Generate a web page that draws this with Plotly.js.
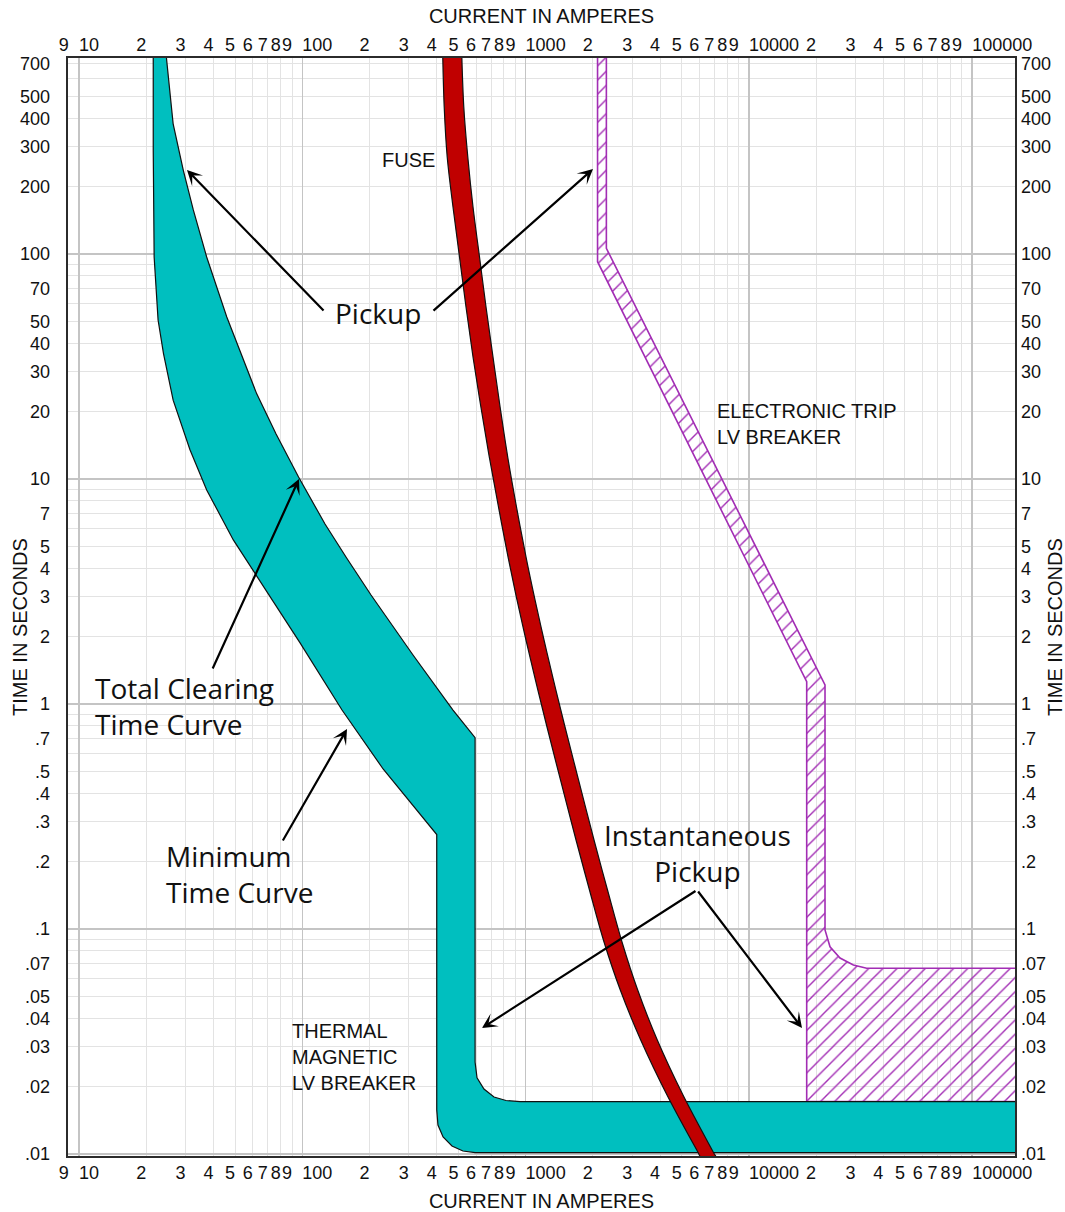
<!DOCTYPE html>
<html>
<head>
<meta charset="utf-8">
<script src="https://cdn.plot.ly/plotly-3.0.1.min.js"></script>
<style>
html,body{margin:0;padding:0;background:#ffffff;}
#chart{width:1065px;height:1212px;}
</style>
</head>
<body>
<div id="chart"></div>
<script>
// ---------------- DATA (amperes / seconds) ----------------
// Thermal magnetic LV breaker band
const tmMinCurrent = [21.5, 21.5, 21.7, 21.9, 22.6, 23.9, 26.4, 31.4, 37.3, 49.1, 60.3, 97.7, 150.6, 230.5, 400, 400, 405, 427, 468, 524, 594, 400000];
const tmMinTime    = [850, 290, 97, 79, 50.9, 36.1, 22.4, 13.5, 8.94, 5.36, 3.88, 1.87, 0.94, 0.513, 0.263, 0.0157, 0.01345, 0.0119, 0.01085, 0.01031, 0.01015, 0.01015];
const tmTotCurrent = [24.3, 26.4, 29.3, 32.5, 37.3, 45.9, 62.5, 76.2, 96.2, 126.4, 156.9, 203.1, 313.2, 473.0, 594, 594, 606, 651, 722, 817, 944, 400000];
const tmTotTime    = [850, 379, 236, 157, 97, 52.5, 23.9, 15.9, 10.2, 6.31, 4.50, 3.05, 1.651, 0.94, 0.708, 0.0256, 0.0218, 0.01945, 0.01792, 0.01729, 0.0171, 0.0171];

// Fuse band
const fuseTime      = [850, 450.2, 269.9, 161.8, 97.0, 58.13, 34.85, 20.89, 12.52, 7.508, 4.502, 2.899, 1.925, 1.278, 0.8233, 0.4596, 0.2486, 0.1491, 0.08758, 0.05357, 0.03211, 0.01829, 0.01021, 0.00849];
const fuseLoCurrent = [424.5, 432.0, 445.6, 473.0, 505.8, 540.9, 581.4, 630.7, 687.9, 756.2, 834.3, 915.1, 1004, 1107, 1234, 1433, 1682, 1932, 2245, 2655, 3277, 4298, 5905, 6552];
const fuseHiCurrent = [516.3, 528.7, 551.0, 581.4, 621.7, 664.9, 714.5, 768.8, 831.7, 910.4, 1004, 1102, 1209, 1333, 1486, 1726, 2025, 2327, 2702, 3177, 3888, 5068, 6921, 7663];

// Electronic trip LV breaker band (closed outline)
const etCurrent = [2100, 2100, 18150, 18150, 400000, 400000, 33690, 29360, 25590, 23080, 21920, 21920, 2300, 2300];
const etTime    = [850, 92.4, 1.256, 0.0171, 0.0171, 0.0669, 0.0669, 0.0692, 0.0743, 0.0834, 0.099, 1.215, 106, 850];

// Tick labels
const xDigitLabels  = ['2','3','4','5','6','7','8','9'];
const xDecadeVals   = [10, 100, 1000, 10000, 100000];
const xDecadeText   = ['10', '100', '1000', '10000', '100000'];
const yTickVals = [0.01,0.02,0.03,0.04,0.05,0.07,0.1,0.2,0.3,0.4,0.5,0.7,1,2,3,4,5,7,10,20,30,40,50,70,100,200,300,400,500,700];
const yTickText = ['.01','.02','.03','.04','.05','.07','.1','.2','.3','.4','.5','.7','1','2','3','4','5','7','10','20','30','40','50','70','100','200','300','400','500','700'];
const yDecadeVals = [0.01, 0.1, 1, 10, 100];

// ---------------- build helpers ----------------
const X_RANGE = [0.9507, 5.1917];
const Y_RANGE = [-2.0089, 2.8711];

const xDigitVals = [9], xDigitText = ['9'];
for (let k = 1; k <= 4; k++) {
  for (let n = 2; n <= 9; n++) { xDigitVals.push(n * Math.pow(10, k)); xDigitText.push(xDigitLabels[n - 2]); }
}
const yMinorVals = [];
for (let k = -2; k <= 2; k++) {
  for (let n = 2; n <= 9; n++) { const v = n * Math.pow(10, k); if (Math.log10(v) < Y_RANGE[1]) yMinorVals.push(v); }
}

const TEAL = '#00BFBF', RED = '#C00000', PURPLE = '#A22DB4';
const AXF = 'Liberation Sans, Arial, Helvetica, sans-serif';
const CALLF = 'Open Sans, Noto Sans, sans-serif';

// closed band polygons
const tmX = tmTotCurrent.concat(tmMinCurrent.slice().reverse());
const tmY = tmTotTime.concat(tmMinTime.slice().reverse());
const fuX = fuseLoCurrent.concat(fuseHiCurrent.slice().reverse());
const fuY = fuseTime.concat(fuseTime.slice().reverse());

const traces = [
  { x: etCurrent, y: etTime, type: 'scatter', mode: 'lines', fill: 'toself',
    fillcolor: 'rgba(0,0,0,0)',
    fillpattern: { shape: '/', fgcolor: PURPLE, bgcolor: 'rgba(0,0,0,0)', size: 10, solidity: 0.14, fillmode: 'replace' },
    line: { color: PURPLE, width: 1.6 }, hoverinfo: 'skip', showlegend: false },
  { x: tmX, y: tmY, type: 'scatter', mode: 'lines', fill: 'toself', fillcolor: TEAL,
    line: { color: '#111', width: 1.2 }, hoverinfo: 'skip', showlegend: false },
  { x: fuX, y: fuY, type: 'scatter', mode: 'lines', fill: 'toself', fillcolor: RED,
    line: { color: '#111', width: 1.2, shape: 'spline', smoothing: 1 }, hoverinfo: 'skip', showlegend: false }
];
// empty carrier traces so every overlaid tick-label axis is drawn
['x2','x3','x4','x5','x6'].forEach(ax => traces.push({ x: [null], y: [null], xaxis: ax, yaxis: 'y', type: 'scatter', mode: 'markers', hoverinfo: 'skip', showlegend: false }));
['y2','y3','y4'].forEach(ax => traces.push({ x: [null], y: [null], xaxis: 'x', yaxis: ax, type: 'scatter', mode: 'markers', hoverinfo: 'skip', showlegend: false }));

// plot-area pixel frame (for placing callouts)
const L = 68, R = 1015, T = 58, B = 1156;
const px = v => (v - L) / (R - L);
const py = v => (B - v) / (B - T);

function arrow(hx, hy, tx, ty) {
  return { xref: 'paper', yref: 'paper', x: px(hx), y: py(hy), ax: tx - hx, ay: ty - hy,
           text: '', showarrow: true, arrowhead: 3, arrowsize: 1.15, arrowwidth: 2.2,
           arrowcolor: '#000', standoff: 0, startstandoff: 0 };
}
function label(text, x, y, opts) {
  return Object.assign({ xref: 'paper', yref: 'paper', x: px(x), y: py(y), text: text, showarrow: false,
           xanchor: 'center', yanchor: 'middle', font: { family: AXF, size: 20, color: '#111' } }, opts || {});
}

const annotations = [
  label('FUSE', 408, 160),
  label('THERMAL<br>MAGNETIC<br>LV BREAKER', 290, 1057, { xanchor: 'left', align: 'left' }),
  label('ELECTRONIC TRIP<br>LV BREAKER', 715, 424, { xanchor: 'left', align: 'left' }),
  label('Pickup', 378, 313, { font: { family: CALLF, size: 28, color: '#111' } }),
  label('Total Clearing<br>Time Curve', 93, 706, { xanchor: 'left', align: 'left', font: { family: CALLF, size: 28, color: '#111' } }),
  label('Minimum<br>Time Curve', 164, 874, { xanchor: 'left', align: 'left', font: { family: CALLF, size: 28, color: '#111' } }),
  label('Instantaneous<br>Pickup', 697, 853, { font: { family: CALLF, size: 28, color: '#111' } }),
  label('TIME IN SECONDS', 20, 627, { textangle: -90, font: { family: AXF, size: 20, color: '#111' } }),
  label('TIME IN SECONDS', 1055, 627, { textangle: -90, font: { family: AXF, size: 20, color: '#111' } }),
  arrow(187, 170, 325, 312),
  arrow(593, 169, 432, 312),
  arrow(299, 479, 212, 670),
  arrow(347, 729, 282, 842),
  arrow(482, 1028, 697, 890),
  arrow(802, 1028, 697, 890)
];

const tickFont = { family: AXF, size: 18, color: '#111' };
const baseX = { type: 'log', range: X_RANGE, autorange: false, ticks: '', zeroline: false, fixedrange: true, tickangle: 0 };
const baseY = { type: 'log', range: Y_RANGE, autorange: false, ticks: '', zeroline: false, fixedrange: true };

const layout = {
  width: 1065, height: 1212, autosize: false,
  margin: { l: L, r: 1065 - R, t: T, b: 1212 - B, pad: 0 },
  paper_bgcolor: '#ffffff', plot_bgcolor: '#ffffff',
  showlegend: false,
  xaxis: Object.assign({}, baseX, { anchor: 'y', side: 'bottom', tickmode: 'array', tickvals: xDigitVals,
    showticklabels: false, showgrid: true, gridcolor: '#e3e3e3', gridwidth: 1,
    showline: true, mirror: true, linecolor: '#2b2b2b', linewidth: 2 }),
  xaxis2: Object.assign({}, baseX, { overlaying: 'x', anchor: 'y', side: 'bottom', tickmode: 'array', tickvals: xDecadeVals,
    showticklabels: false, showgrid: true, gridcolor: '#c4c4c4', gridwidth: 1.4, showline: false }),
  xaxis3: Object.assign({}, baseX, { overlaying: 'x', anchor: 'y', side: 'bottom', tickmode: 'array', tickvals: xDigitVals, ticktext: xDigitText,
    showgrid: false, showline: false, tickfont: tickFont, ticklabelshift: -5, ticklabelstandoff: 4,
    title: { text: 'CURRENT IN AMPERES', font: { family: AXF, size: 20, color: '#111' }, standoff: 12 } }),
  xaxis4: Object.assign({}, baseX, { overlaying: 'x', anchor: 'y', side: 'bottom', tickmode: 'array', tickvals: xDecadeVals, ticktext: xDecadeText,
    showgrid: false, showline: false, tickfont: tickFont, ticklabelposition: 'outside right', ticklabelstandoff: 4 }),
  xaxis5: Object.assign({}, baseX, { overlaying: 'x', anchor: 'y', side: 'top', tickmode: 'array', tickvals: xDigitVals, ticktext: xDigitText,
    showgrid: false, showline: false, tickfont: tickFont, ticklabelshift: -5, ticklabelstandoff: 2,
    title: { text: 'CURRENT IN AMPERES', font: { family: AXF, size: 20, color: '#111' }, standoff: 6 } }),
  xaxis6: Object.assign({}, baseX, { overlaying: 'x', anchor: 'y', side: 'top', tickmode: 'array', tickvals: xDecadeVals, ticktext: xDecadeText,
    showgrid: false, showline: false, tickfont: tickFont, ticklabelposition: 'outside right', ticklabelstandoff: 2 }),
  yaxis: Object.assign({}, baseY, { anchor: 'x', side: 'left', tickmode: 'array', tickvals: yMinorVals,
    showticklabels: false, showgrid: true, gridcolor: '#e3e3e3', gridwidth: 1,
    showline: true, mirror: true, linecolor: '#2b2b2b', linewidth: 2 }),
  yaxis2: Object.assign({}, baseY, { overlaying: 'y', anchor: 'x', side: 'left', tickmode: 'array', tickvals: yDecadeVals,
    showticklabels: false, showgrid: true, gridcolor: '#c4c4c4', gridwidth: 1.4, showline: false }),
  yaxis3: Object.assign({}, baseY, { overlaying: 'y', anchor: 'x', side: 'left', tickmode: 'array', tickvals: yTickVals, ticktext: yTickText,
    showgrid: false, showline: false, tickfont: tickFont, ticklabelstandoff: 17 }),
  yaxis4: Object.assign({}, baseY, { overlaying: 'y', anchor: 'x', side: 'right', tickmode: 'array', tickvals: yTickVals, ticktext: yTickText,
    showgrid: false, showline: false, tickfont: tickFont, ticklabelstandoff: 5 }),
  annotations: annotations
};

Plotly.newPlot('chart', traces, layout, { staticPlot: true, displayModeBar: false });
</script>
</body>
</html>
